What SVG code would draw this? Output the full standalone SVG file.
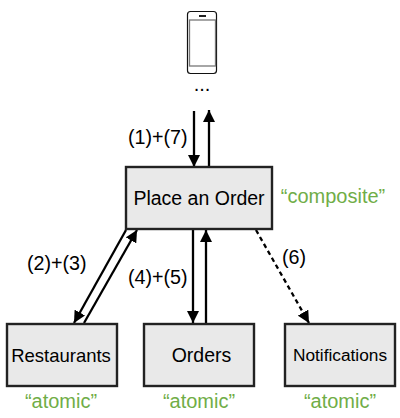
<svg xmlns="http://www.w3.org/2000/svg" width="400" height="418" viewBox="0 0 400 418">
<style>
text{font-family:"Liberation Sans",Arial,sans-serif;fill:#000}
.b{fill:#e9e9e9;stroke:#222;stroke-width:2.4}
.l{font-size:19.7px}
.g{font-size:20px;fill:#70ad47;text-anchor:middle}
.c{stroke:#000;stroke-width:2.3;fill:none}
.t{text-anchor:middle}
</style>
<defs>
<marker id="a" markerUnits="userSpaceOnUse" markerWidth="12" markerHeight="12" refX="10" refY="5" orient="auto" viewBox="0 0 10 10"><path d="M0 0L10 5L0 10Z" fill="#000"/></marker>
</defs>
<g id="phone">
<rect x="187.5" y="11.5" width="29" height="62" rx="3" fill="#fff" stroke="#111" stroke-width="1.2"/>
<rect x="189.5" y="20" width="26" height="46" fill="#fff" stroke="#777" stroke-width="1.3"/>
<rect x="199" y="15" width="7" height="2" fill="#222"/>
<text x="202" y="91" class="t" font-size="20">...</text>
</g>
<g id="connectors">
<path class="c" d="M194 111V167" marker-end="url(#a)"/>
<path class="c" d="M209 167V110" marker-end="url(#a)"/>
<path class="c" d="M126 230L74 323" marker-end="url(#a)"/>
<path class="c" d="M84 323L137 230" marker-end="url(#a)"/>
<path class="c" d="M193 229V323" marker-end="url(#a)"/>
<path class="c" d="M206 323V230" marker-end="url(#a)"/>
<path class="c" d="M256 230L309 323" stroke-width="2.6" stroke-dasharray="4.5 3.5" marker-end="url(#a)"/>
</g>
<g id="place-order"><rect class="b" x="126" y="167" width="146" height="62"/><text x="199" y="205" class="t" font-size="19.5">Place an Order</text></g>
<g id="restaurants"><rect class="b" x="7" y="324" width="110" height="62"/><text x="61" y="362" class="t" font-size="18.5">Restaurants</text></g>
<g id="orders"><rect class="b" x="144" y="324" width="110" height="62"/><text x="201.500" y="362" class="t" font-size="19.5">Orders</text></g>
<g id="notifications"><rect class="b" x="285" y="324" width="110" height="62"/><text x="340" y="361" class="t" font-size="17.300">Notifications</text></g>
<text class="l" x="128" y="144">(1)+(7)</text>
<text class="l" x="27" y="270">(2)+(3)</text>
<text class="l" x="128" y="284">(4)+(5)</text>
<text class="l" x="282" y="264">(6)</text>
<text class="g" x="333" y="203">“composite”</text>
<text class="g" x="61" y="408">“atomic”</text>
<text class="g" x="199" y="408">“atomic”</text>
<text class="g" x="340" y="408">“atomic”</text>
</svg>
